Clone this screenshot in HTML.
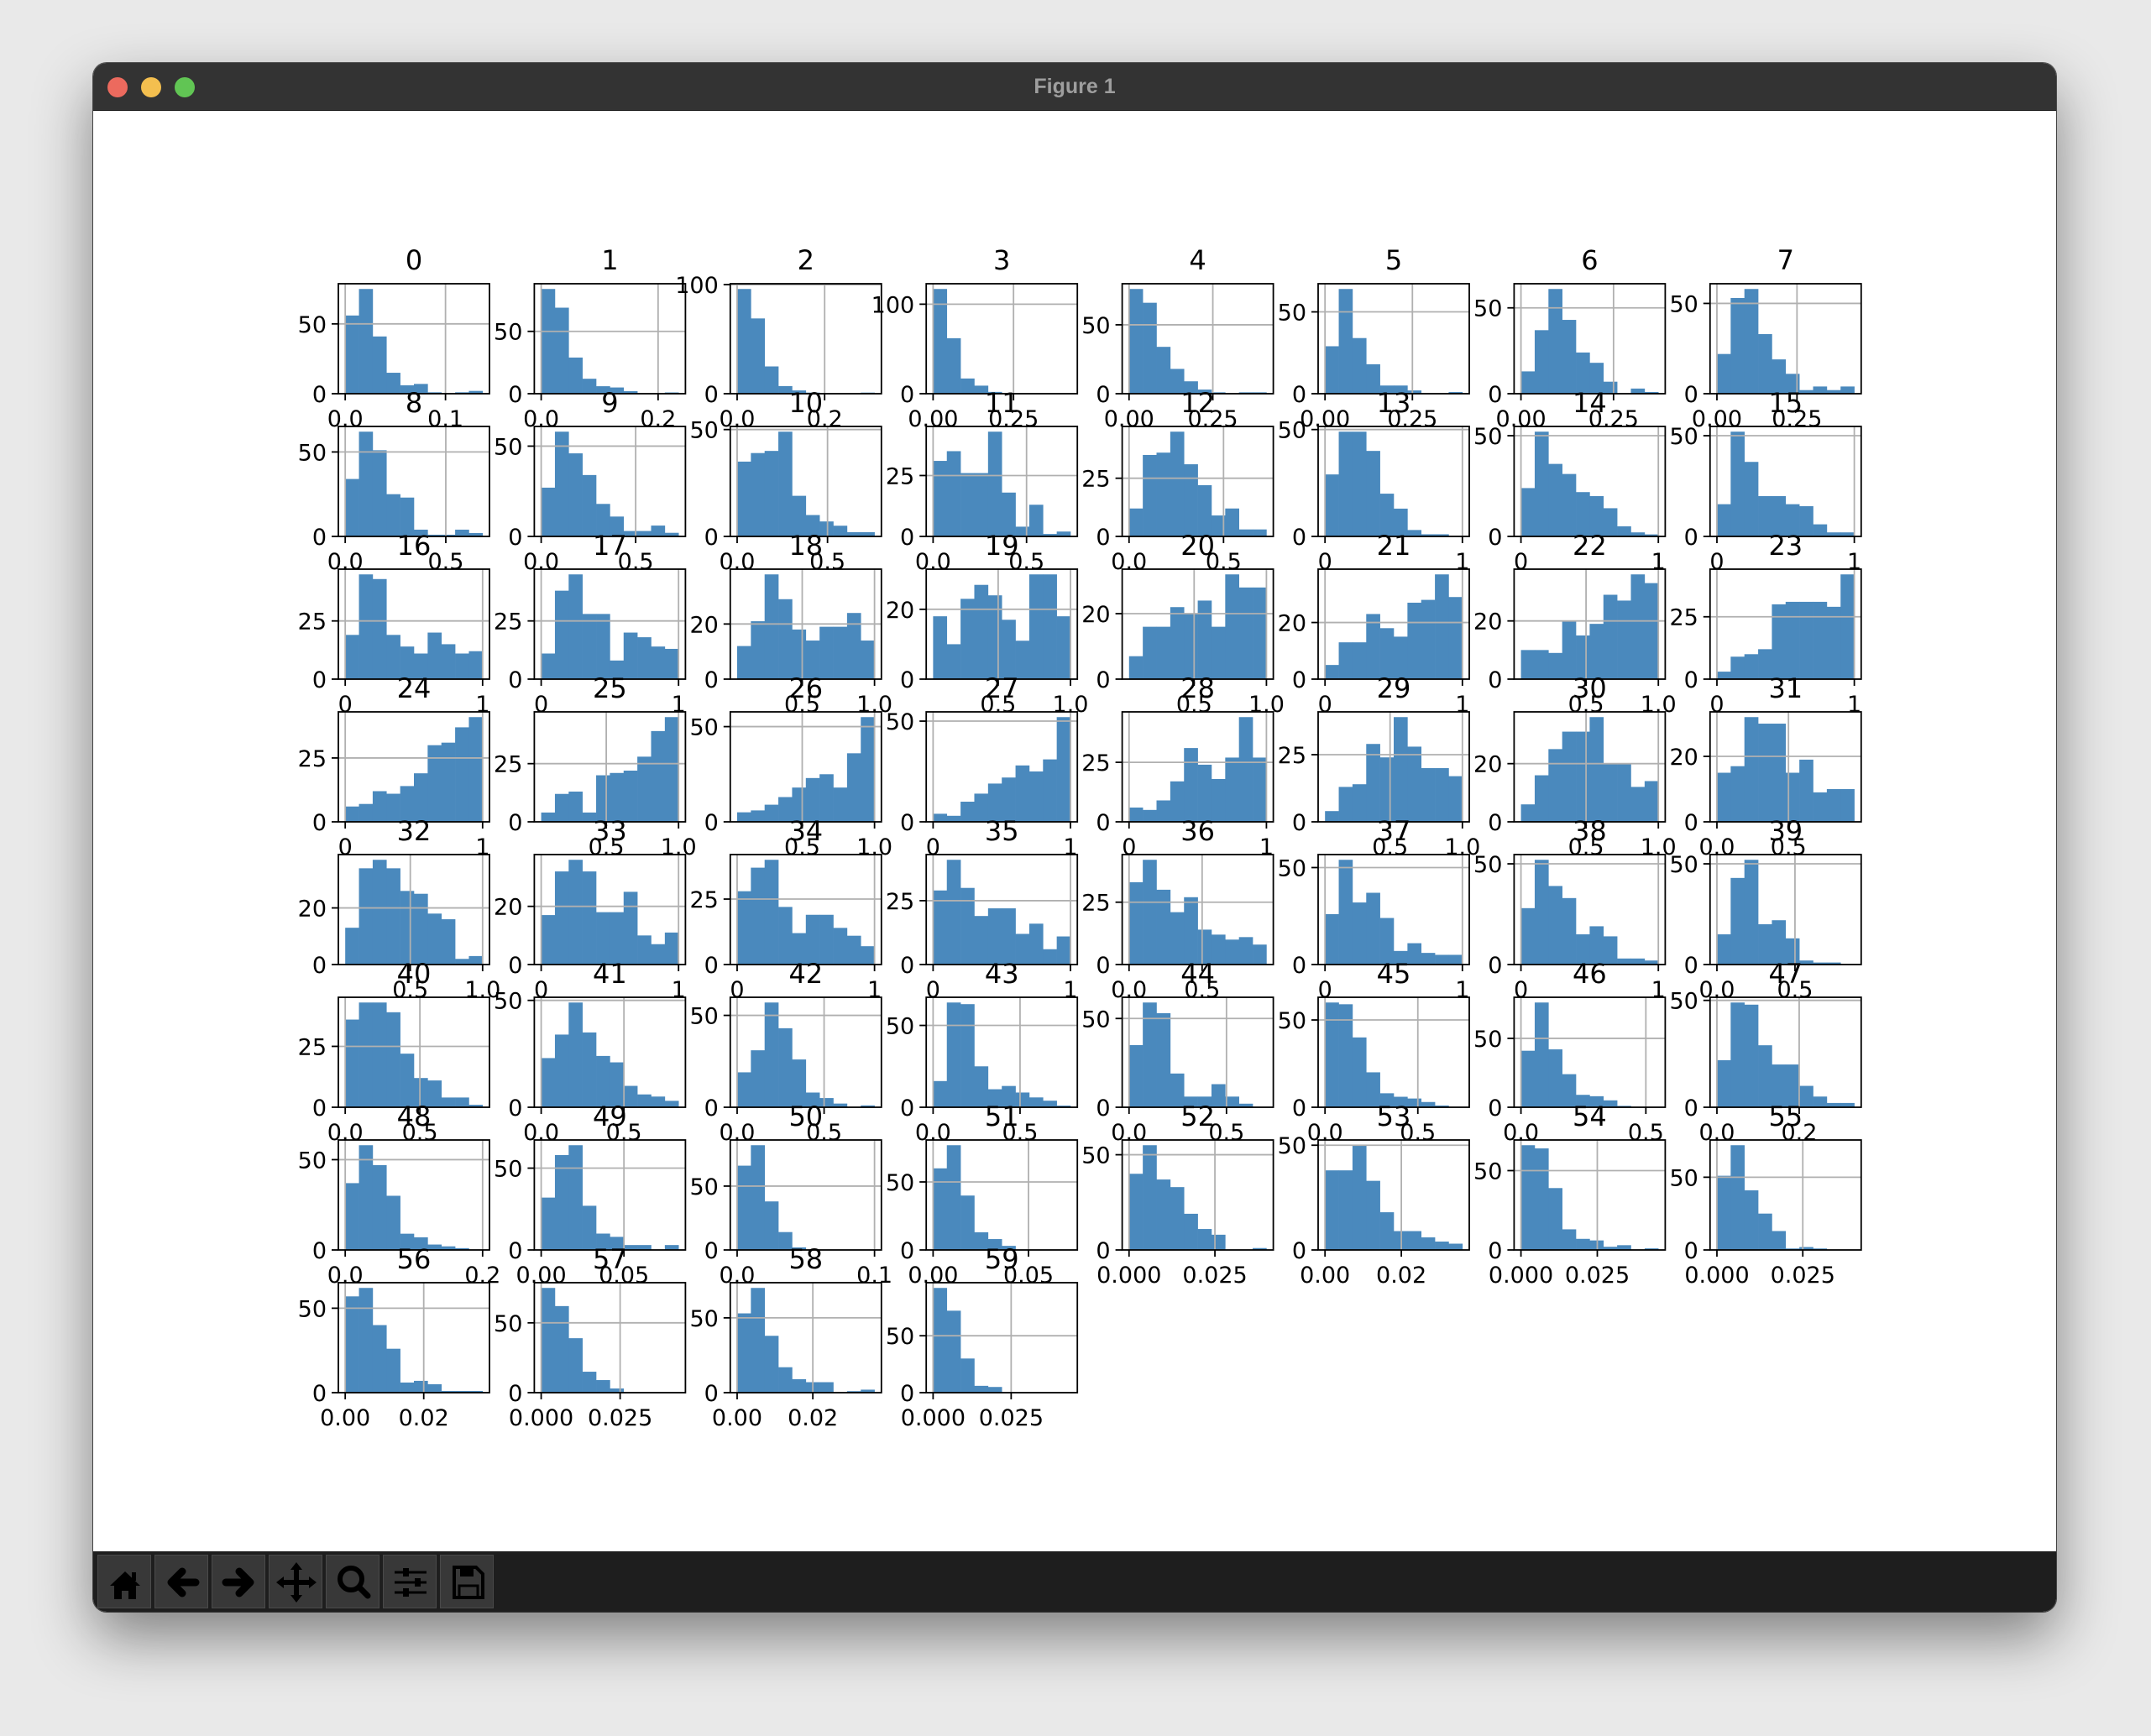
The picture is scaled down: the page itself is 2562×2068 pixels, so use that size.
<!DOCTYPE html>
<html><head><meta charset="utf-8"><style>
html,body{margin:0;padding:0;width:2562px;height:2068px;background:#e9e9e9;overflow:hidden;}
#win{position:absolute;left:111px;top:75px;width:2338px;height:1845px;border-radius:16px;background:#fff;box-shadow:0 30px 70px rgba(0,0,0,0.45),0 0 0 1px #555;overflow:hidden;}
#titlebar{position:absolute;left:0;top:0;width:100%;height:56px;background:#333;border-bottom:1px solid #111;}
.light{position:absolute;top:17px;width:24px;height:24px;border-radius:50%;}
#title{position:absolute;left:0;width:100%;top:14px;text-align:center;color:#9e9e9e;font:bold 25px "Liberation Sans",sans-serif;}
#toolbar{position:absolute;left:0;top:1773px;width:100%;height:72px;background:#1e1e1e;}
.btn{position:absolute;top:4px;width:64px;height:64px;background:#383838;border:1px solid #4a4a4a;box-sizing:border-box;}
.btn svg{position:absolute;left:0;top:0}
#chart{position:absolute;left:0;top:0}
</style></head><body>
<div id="win">
 <div id="titlebar">
  <div class="light" style="left:17px;background:#ec6a5e"></div>
  <div class="light" style="left:57px;background:#f4bf4f"></div>
  <div class="light" style="left:97px;background:#61c554"></div>
  <div id="title">Figure 1</div>
 </div>
 <div id="toolbar">
  <div class="btn" style="left:5px"><svg width="64" height="64"><path d="M14 36 L32 19 L50 36 L45 36 L45 52 L36 52 L36 42 L28 42 L28 52 L19 52 L19 36 Z" fill="#000"/><rect x="40" y="20" width="5" height="10" fill="#000"/></svg></div>
  <div class="btn" style="left:73px"><svg width="64" height="64"><path d="M48 32 L20 32 M32 19 L19 32 L32 45" stroke="#000" stroke-width="9" fill="none" stroke-linecap="round" stroke-linejoin="round"/></svg></div>
  <div class="btn" style="left:141px"><svg width="64" height="64"><path d="M16 32 L44 32 M32 19 L45 32 L32 45" stroke="#000" stroke-width="9" fill="none" stroke-linecap="round" stroke-linejoin="round"/></svg></div>
  <div class="btn" style="left:209px"><svg width="64" height="64"><path d="M32 12 V52 M12 32 H52" stroke="#000" stroke-width="6"/><path d="M32 8 L25 17 H39 Z M32 56 L25 47 H39 Z M8 32 L17 25 V39 Z M56 32 L47 25 V39 Z" fill="#000"/></svg></div>
  <div class="btn" style="left:277px"><svg width="64" height="64"><circle cx="29" cy="28" r="13" stroke="#000" stroke-width="6" fill="none"/><path d="M39 38 L49 48" stroke="#000" stroke-width="7" stroke-linecap="round"/></svg></div>
  <div class="btn" style="left:345px"><svg width="64" height="64"><path d="M13 20 H51 M13 32 H51 M13 44 H51" stroke="#000" stroke-width="3"/><rect x="23" y="15" width="7" height="10" fill="#000"/><rect x="37" y="27" width="7" height="10" fill="#000"/><rect x="23" y="39" width="7" height="10" fill="#000"/></svg></div>
  <div class="btn" style="left:413px"><svg width="64" height="64"><path d="M16 14 H42 L50 22 V50 H16 Z" stroke="#000" stroke-width="4" fill="none"/><rect x="23" y="14" width="16" height="11" fill="#000"/><rect x="22" y="36" width="22" height="14" stroke="#000" stroke-width="3" fill="none"/></svg></div>
 </div>
</div>
<svg id="chart" width="2562" height="2068" xmlns="http://www.w3.org/2000/svg"></svg>
<script>
const counts = [
[56,75,41,15,6,7,1,0,1,2],[84,69,29,12,6,5,2,0,0,1],[96,69,25,7,3,1,0,0,0,1],[117,62,17,9,2,0,0,0,0,0],
[76,66,34,18,9,3,1,0,1,1],[29,64,34,18,5,5,2,0,0,1],[13,37,61,43,24,18,7,0,3,1],[22,53,58,33,19,11,2,4,2,4],
[34,62,51,25,23,4,1,1,4,2],[27,58,46,34,18,11,3,3,6,2],[35,39,40,49,19,10,7,5,2,2],[31,35,26,26,43,18,4,13,1,2],
[12,35,36,45,31,22,9,12,3,3],[29,49,49,40,20,13,3,1,1,0],[24,52,36,31,22,20,14,5,2,1],[16,52,37,20,20,16,15,6,2,2],
[19,45,43,19,14,11,20,15,11,12],[11,38,45,28,28,8,20,18,14,13],[12,21,38,29,18,14,19,19,24,14],[18,10,23,27,24,17,11,30,30,18],
[7,16,16,22,20,24,16,32,28,28],[5,13,13,23,18,15,27,28,37,29],[10,10,9,20,15,19,29,27,36,33],[3,9,10,12,30,31,31,31,29,42],
[6,7,12,11,14,19,30,31,37,41],[4,12,13,4,20,21,22,28,39,45],[5,6,9,13,18,23,25,18,36,55],[4,3,10,14,19,22,28,25,31,52],
[6,5,9,17,31,24,18,27,44,27],[4,13,14,29,24,39,28,20,20,17],[6,16,25,31,31,36,20,20,12,14],[15,17,32,30,30,15,19,9,10,10],
[13,34,37,34,26,25,18,16,2,3],[17,32,36,32,18,18,25,10,7,11],[28,37,40,22,12,19,19,14,11,7],[29,41,30,19,22,22,12,16,6,11],
[33,42,30,21,27,14,12,10,11,8],[26,54,32,37,24,7,11,6,5,5],[28,52,39,33,15,19,14,3,3,2],[15,43,52,20,22,13,2,1,1,0],
[36,43,43,39,22,12,11,4,4,1],[23,34,49,35,24,21,10,6,5,3],[19,31,57,43,26,8,5,2,0,1],[16,64,63,25,11,13,9,6,4,1],
[35,59,53,19,6,6,13,6,2,0],[60,59,40,20,8,6,5,3,1,0],[41,76,42,24,9,8,5,1,0,0],[22,49,48,29,20,20,10,5,2,2],
[37,58,47,30,9,7,3,2,1,0],[32,58,64,27,10,8,3,3,0,3],[66,82,38,14,2,0,0,0,0,0],[60,77,40,13,8,3,0,0,0,0],
[40,55,37,33,19,11,8,0,0,1],[38,38,50,33,18,9,9,6,4,3],[66,64,39,13,7,6,2,3,0,1],[51,72,41,25,13,1,2,1,0,0],
[57,62,40,26,6,7,5,1,1,1],[75,62,39,15,9,3,0,0,0,0],[53,70,38,17,9,7,7,0,1,2],[92,72,30,6,5,0,0,0,0,0]
];
const xMin = [0,0,0,0,0,0,0,0, 0,0,0,0,0,0,0,0, 0,0,0.05,0.05,0.05,0,0.05,0, 0,0.05,0.05,0,0,0.05,0.05,0,
 0.05,0,0,0,0,0,0,0, 0,0,0,0,0,0,0,0, 0,0,0,0,0,0,0,0, 0,0,0,0];
const xMax = [0.137,0.235,0.314,0.427,0.41,0.393,0.371,0.429, 0.683,0.727,0.76,0.735,0.727,1,1,1,
 1,1,1,1,1,1,1,1, 1,1,1,1,1,1,1,0.96, 1,1,1,1,0.94,1,1,0.88,
 0.92,0.83,0.79,0.79,0.705,0.74,0.55,0.334, 0.2,0.083,0.1,0.072,0.04,0.036,0.045,0.04,
 0.035,0.0435,0.0363,0.044];
const xTickLabels = [
["0.0","0.1"],["0.0","0.2"],["0.0","0.2"],["0.00","0.25"],["0.00","0.25"],["0.00","0.25"],["0.00","0.25"],["0.00","0.25"],
["0.0","0.5"],["0.0","0.5"],["0.0","0.5"],["0.0","0.5"],["0.0","0.5"],["0","1"],["0","1"],["0","1"],
["0","1"],["0","1"],["0.5","1.0"],["0.5","1.0"],["0.5","1.0"],["0","1"],["0.5","1.0"],["0","1"],
["0","1"],["0.5","1.0"],["0.5","1.0"],["0","1"],["0","1"],["0.5","1.0"],["0.5","1.0"],["0.0","0.5"],
["0.5","1.0"],["0","1"],["0","1"],["0","1"],["0.0","0.5"],["0","1"],["0","1"],["0.0","0.5"],
["0.0","0.5"],["0.0","0.5"],["0.0","0.5"],["0.0","0.5"],["0.0","0.5"],["0.0","0.5"],["0.0","0.5"],["0.0","0.2"],
["0.0","0.2"],["0.00","0.05"],["0.0","0.1"],["0.00","0.05"],["0.000","0.025"],["0.00","0.02"],["0.000","0.025"],["0.000","0.025"],
["0.00","0.02"],["0.000","0.025"],["0.00","0.02"],["0.000","0.025"]
];
const yStep = [50,50,100,100,50,50,50,50, 50,50,50,25,25,50,50,50, 25,25,20,20,20,20,20,25,
 25,25,50,50,25,25,20,20, 20,20,25,25,25,50,50,50, 25,50,50,50,50,50,50,50,
 50,50,50,50,50,50,50,50, 50,50,50,50];

const NS = "http://www.w3.org/2000/svg";
const svg = document.getElementById("chart");
const AX_L = 403, AX_T = 338, COL = 233.4, ROW = 170, AW = 180, AH = 131;
function el(tag, attrs, parent) {
  const e = document.createElementNS(NS, tag);
  for (const k in attrs) e.setAttribute(k, attrs[k]);
  parent.appendChild(e);
  return e;
}
const FONT = '"DejaVu Sans","Liberation Sans",sans-serif';
counts.forEach((cts, i) => {
  const c = i % 8, r = Math.floor(i / 8);
  const L = AX_L + c * COL, T = AX_T + r * ROW, B = T + AH, R = L + AW;
  const g = el("g", {}, svg);
  
  
  const lo = xMin[i], hi = xMax[i], rng = hi - lo;
  const x0 = lo - 0.05 * rng, x1 = hi + 0.05 * rng;
  const ymax = Math.max(...cts) * 1.05;
  const sx = v => L + (v - x0) / (x1 - x0) * AW;
  const sy = v => B - v / ymax * AH;
  const bw = rng / cts.length;
  cts.forEach((v, k) => {
    if (v <= 0) return;
    const xa = sx(lo + k * bw), xb = sx(lo + (k + 1) * bw);
    const b = el("rect", {x: xa, y: sy(v), width: xb - xa + 0.3, height: B - sy(v), fill: "#4a89bd"}, g);
    
    
  });
  for (let t = 0; t <= ymax; t += yStep[i]) {
    const y = sy(t);
    if (t > 0) {
      const gl = el("line", {x1: L, x2: R, y1: y, y2: y, stroke: "#b0b0b0", "stroke-width": 1.8}, g);
      
      
    }
    const tk = el("line", {x1: L - 8, x2: L, y1: y, y2: y, stroke: "#000", "stroke-width": 1.8}, g);
    
    
    const tl = el("text", {x: L - 14, y: y + 10, "text-anchor": "end", "font-size": 27, "font-family": FONT, fill: "#000"}, g);
    
    
    tl.textContent = String(t);
  }
  xTickLabels[i].forEach(lab => {
    const v = parseFloat(lab), x = sx(v);
    const gl = el("line", {x1: x, x2: x, y1: T, y2: B, stroke: "#b0b0b0", "stroke-width": 1.8}, g);
    
    
    const tk = el("line", {x1: x, x2: x, y1: B, y2: B + 8, stroke: "#000", "stroke-width": 1.8}, g);
    
    
    const tl = el("text", {x: x, y: B + 39, "text-anchor": "middle", "font-size": 27, "font-family": FONT, fill: "#000"}, g);
    
    
    tl.textContent = lab;
  });
  const fr = el("rect", {x: L, y: T, width: AW, height: AH, fill: "none", stroke: "#000", "stroke-width": 1.8}, g);
  
  
  const tt = el("text", {x: L + AW / 2, y: T - 17, "text-anchor": "middle", "font-size": 32, "font-family": FONT, fill: "#000"}, g);
  
  
  tt.textContent = String(i);
});
</script>
</body></html>
